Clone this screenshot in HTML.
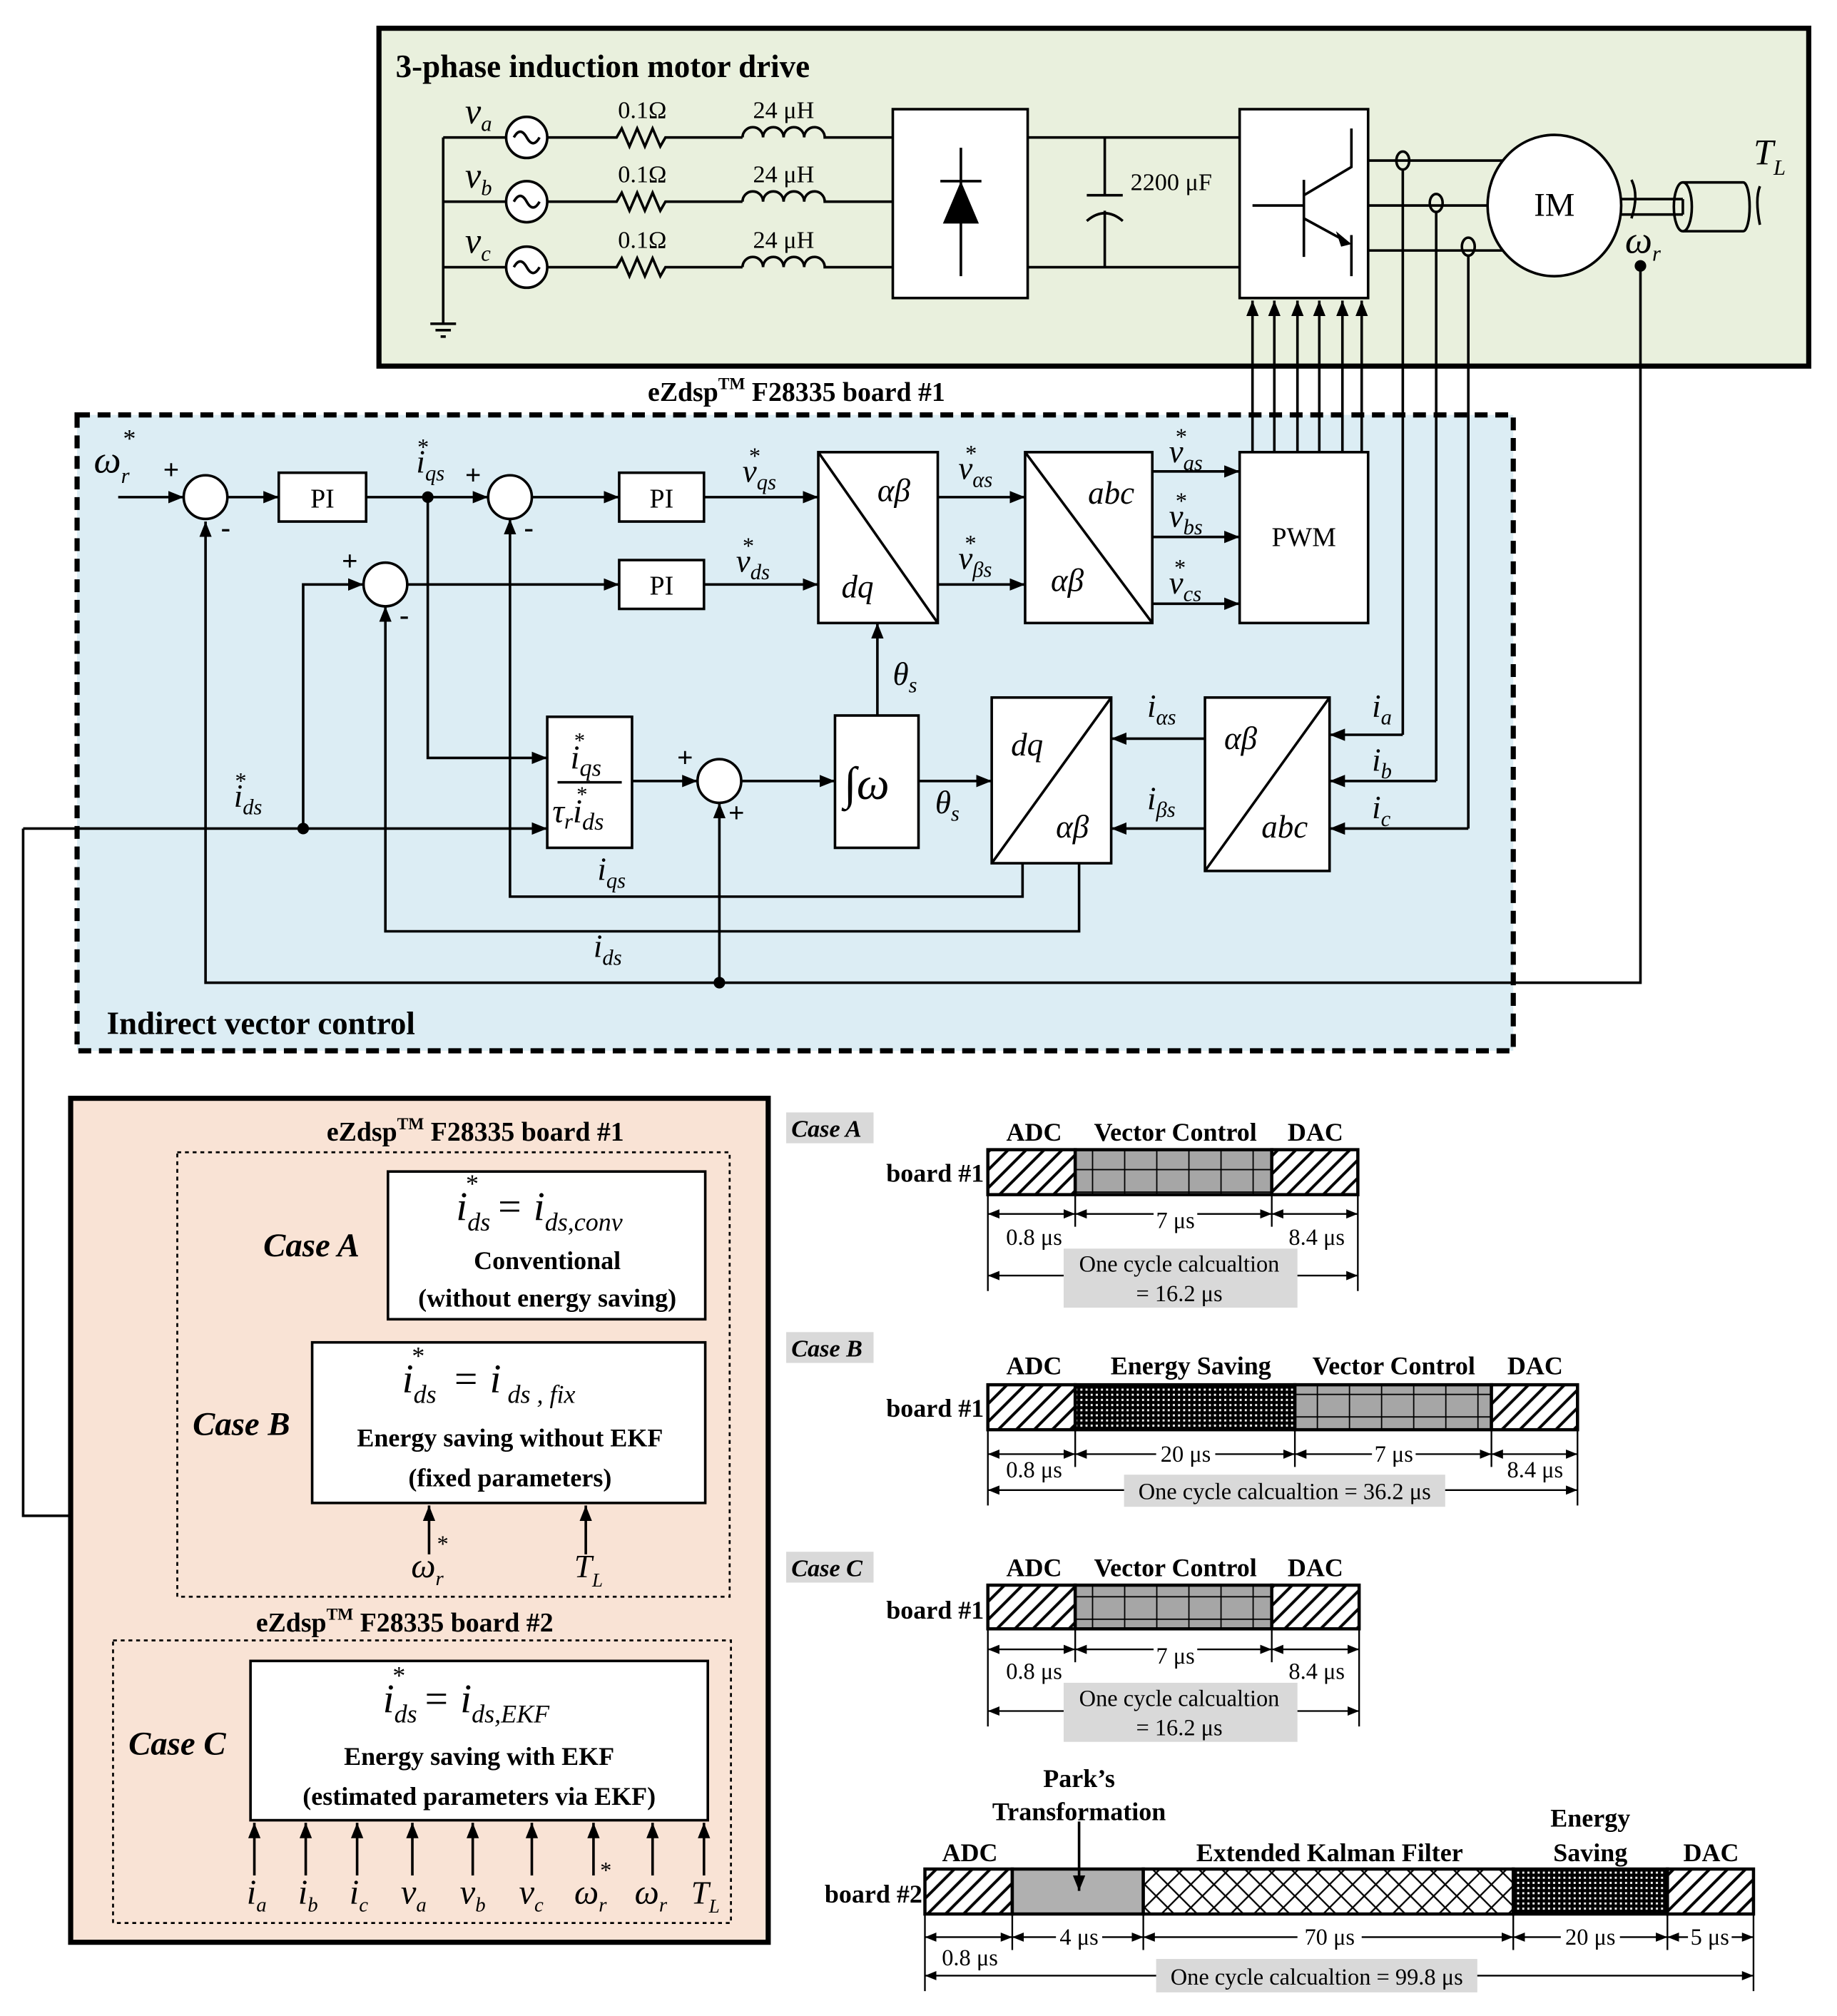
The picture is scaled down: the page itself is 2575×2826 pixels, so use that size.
<!DOCTYPE html>
<html><head><meta charset="utf-8"><style>
html,body{margin:0;padding:0;background:#fff}
svg{display:block}
text{font-family:"Liberation Serif",serif;fill:#000}
.b{font-weight:bold}
.i{font-style:italic}
</style></head><body>
<svg width="2575" height="2826" viewBox="0 0 1430 1569.4" xmlns="http://www.w3.org/2000/svg">
<defs>
<marker id="ar" viewBox="0 0 10 10" refX="10" refY="5" markerWidth="12" markerHeight="12" markerUnits="userSpaceOnUse" orient="auto"><path d="M0,1 L10,5 L0,9 z" fill="#000"/></marker>
<marker id="as" viewBox="0 0 10 10" refX="10" refY="5" markerWidth="9" markerHeight="9" markerUnits="userSpaceOnUse" orient="auto-start-reverse"><path d="M0,1 L10,5 L0,9 z" fill="#000"/></marker>
<pattern id="hatch" width="14" height="14" patternUnits="userSpaceOnUse"><rect width="14" height="14" fill="#fff"/><path d="M-2,16 L16,-2 M-2,2 L2,-2 M12,16 L16,12" stroke="#000" stroke-width="2.2"/></pattern>
<pattern id="grid" width="25" height="17.5" patternUnits="userSpaceOnUse"><rect width="25" height="17.5" fill="#a6a6a6"/><path d="M0,0 H25 M0,0 V17.5" stroke="#000" stroke-width="2"/></pattern>
<pattern id="dots" width="4" height="4" patternUnits="userSpaceOnUse"><rect width="4" height="4" fill="#000"/><rect x="1" y="1" width="1.6" height="1.6" fill="#fff"/></pattern>
<pattern id="cross" width="18" height="18" patternUnits="userSpaceOnUse"><rect width="18" height="18" fill="#fff"/><path d="M0,0 L18,18 M18,0 L0,18" stroke="#000" stroke-width="1.3"/></pattern>
</defs>

<!-- Motor drive box -->
<rect x="295" y="22" width="1113" height="263" fill="#e9f0dd" stroke="#000" stroke-width="4"/>
<text x="308" y="60" class="b" font-size="25">3-phase induction motor drive</text>
<g stroke="#000" stroke-width="2" fill="none">
<path d="M345,107 V252 M335,252 H355 M339,257 H351 M343,262 H347"/>
<path d="M345,107 H394 M345,157 H394 M345,208 H394"/>
<circle cx="410" cy="107" r="16" fill="#fff"/><circle cx="410" cy="157" r="16" fill="#fff"/><circle cx="410" cy="208" r="16" fill="#fff"/>
<path d="M400,107 q5,-9 10,0 t10,0 M400,157 q5,-9 10,0 t10,0 M400,208 q5,-9 10,0 t10,0"/>
<path d="M426,107 H480 l4,-7 l6,14 l6,-14 l6,14 l6,-14 l6,14 l4,-7 H578"/>
<path d="M426,157 H480 l4,-7 l6,14 l6,-14 l6,14 l6,-14 l6,14 l4,-7 H578"/>
<path d="M426,208 H480 l4,-7 l6,14 l6,-14 l6,14 l6,-14 l6,14 l4,-7 H578"/>
<path d="M578,107 a8,8 0 0 1 16,0 a8,8 0 0 1 16,0 a8,8 0 0 1 16,0 a8,8 0 0 1 16,0 H695"/>
<path d="M578,157 a8,8 0 0 1 16,0 a8,8 0 0 1 16,0 a8,8 0 0 1 16,0 a8,8 0 0 1 16,0 H695"/>
<path d="M578,208 a8,8 0 0 1 16,0 a8,8 0 0 1 16,0 a8,8 0 0 1 16,0 a8,8 0 0 1 16,0 H695"/>
<rect x="695" y="85" width="105" height="147" fill="#fff"/>
<path d="M748,115 V215 M732,141 H764"/>
<path d="M800,107 H965 M800,208 H965 M860,107 V152 M846,152 H874 M846,172 q14,-12 28,0 M860,164 V208"/>
<rect x="965" y="85" width="100" height="147" fill="#fff"/>
<path d="M1052,100 V130 L1015,152 M1015,140 V200 M975,160 H1015 M1015,170 L1048,188 M1052,183 V215"/>
<path d="M1065,125 H1172 M1065,160 H1165 M1065,195 H1172"/>
<ellipse cx="1210" cy="160" rx="52" ry="55" fill="#fff"/>
<path d="M1262,155 H1310 M1262,167 H1310 M1310,155 V167"/>
<ellipse cx="1310" cy="161" rx="7" ry="19"/><path d="M1310,142 H1357 M1310,180 H1357"/><path d="M1357,142 a5,19 0 0 1 0,38"/>
<path d="M1270,140 q6,12 0,30 M1370,145 q-4,10 0,30"/>
<ellipse cx="1092" cy="125" rx="5" ry="7"/><ellipse cx="1118" cy="158" rx="5" ry="7"/><ellipse cx="1143" cy="192" rx="5" ry="7"/>
</g>
<path d="M748,141 L734,174 H762 z" fill="#000"/>
<path d="M1052,190 L1040,180 L1044,192 z" fill="#000"/>
<text x="362" y="96" class="i" font-size="28">v<tspan font-size="17" dy="6">a</tspan></text>
<text x="362" y="146" class="i" font-size="28">v<tspan font-size="17" dy="6">b</tspan></text>
<text x="362" y="197" class="i" font-size="28">v<tspan font-size="17" dy="6">c</tspan></text>
<g font-size="19" text-anchor="middle"><text x="500" y="92">0.1Ω</text><text x="500" y="142">0.1Ω</text><text x="500" y="193">0.1Ω</text>
<text x="610" y="92">24 μH</text><text x="610" y="142">24 μH</text><text x="610" y="193">24 μH</text></g>
<text x="880" y="148" font-size="19">2200 μF</text>
<text x="1210" y="168" font-size="26" text-anchor="middle">IM</text>
<text x="1365" y="128" class="i" font-size="28">T<tspan font-size="17" dy="8">L</tspan></text>
<text x="1265" y="197" class="i" font-size="30">ω<tspan font-size="17" dy="6">r</tspan></text>

<!-- Vector control box -->
<text x="620" y="312" class="b" font-size="21" text-anchor="middle">eZdsp<tspan font-size="13" dy="-9">TM</tspan><tspan dy="9"> F28335 board #1</tspan></text>
<rect x="60" y="323" width="1118" height="495" fill="#dcedf4" stroke="#000" stroke-width="4" stroke-dasharray="10,6"/>
<text x="83" y="805" class="b" font-size="25">Indirect vector control</text>

<!-- connectors from motor drive (drawn on top) -->
<g stroke="#000" stroke-width="2" fill="none">
<path d="M1092,132 V572 M1118,165 V608 M1143,199 V645"/>
<path d="M1277,207 V765 H160 V406" marker-end="url(#ar)"/>
<path d="M975,352 V234" marker-end="url(#ar)"/><path d="M992,352 V234" marker-end="url(#ar)"/><path d="M1010,352 V234" marker-end="url(#ar)"/><path d="M1027,352 V234" marker-end="url(#ar)"/><path d="M1045,352 V234" marker-end="url(#ar)"/><path d="M1060,352 V234" marker-end="url(#ar)"/>
</g>
<circle cx="1277" cy="207" r="4.5" fill="#000"/>

<g stroke="#000" stroke-width="2" fill="none">
<circle cx="160" cy="387" r="17" fill="#fff"/><circle cx="397" cy="387" r="17" fill="#fff"/><circle cx="300" cy="455" r="17" fill="#fff"/><circle cx="560" cy="608" r="17" fill="#fff"/>
<rect x="217" y="368" width="68" height="38" fill="#fff"/><rect x="482" y="368" width="66" height="38" fill="#fff"/><rect x="482" y="436" width="66" height="38" fill="#fff"/>
<rect x="637" y="352" width="93" height="133" fill="#fff"/><path d="M637,352 L730,485"/>
<rect x="798" y="352" width="99" height="133" fill="#fff"/><path d="M798,352 L897,485"/>
<rect x="965" y="352" width="100" height="133" fill="#fff"/>
<rect x="426" y="558" width="66" height="102" fill="#fff"/><path d="M434,609 H484"/>
<rect x="650" y="557" width="65" height="103" fill="#fff"/>
<rect x="772" y="543" width="93" height="129" fill="#fff"/><path d="M772,672 L865,543"/>
<rect x="938" y="543" width="97" height="135" fill="#fff"/><path d="M938,678 L1035,543"/>
<g marker-end="url(#ar)">
<path d="M92,387 H143"/><path d="M177,387 H217"/><path d="M285,387 H380"/><path d="M414,387 H482"/><path d="M548,387 H637"/>
<path d="M236,645 V455 H283"/><path d="M317,455 H482"/><path d="M548,455 H637"/>
<path d="M730,387 H798"/><path d="M730,455 H798"/>
<path d="M897,367 H965"/><path d="M897,418 H965"/><path d="M897,470 H965"/>
<path d="M333,387 V590 H426"/><path d="M18,645 H426"/>
<path d="M492,608 H543"/><path d="M560,765 V625"/><path d="M577,608 H650"/>
<path d="M683,557 V485"/><path d="M715,608 H772"/>
<path d="M938,575 H865"/><path d="M938,645 H865"/>
<path d="M1092,572 H1035"/><path d="M1118,608 H1035"/><path d="M1143,645 H1035"/>
<path d="M796,672 V698 H397 V404"/><path d="M840,672 V725 H300 V472"/>
</g>
<path d="M18,645 V1180 H55"/>
</g>
<circle cx="333" cy="387" r="4.5"/><circle cx="236" cy="645" r="4.5"/><circle cx="560" cy="765" r="4.5"/>
<g font-size="22" class="b"><text x="127" y="373">+</text><text x="172" y="418">-</text><text x="362" y="377">+</text><text x="408" y="418">-</text><text x="266" y="444">+</text><text x="311" y="486">-</text><text x="527" y="597">+</text><text x="567" y="640">+</text></g>
<g font-size="21" text-anchor="middle"><text x="251" y="395">PI</text><text x="515" y="395">PI</text><text x="515" y="463">PI</text><text x="1015" y="425">PWM</text></g>
<g class="i" font-size="25">
<text x="73" y="368" font-size="30">ω<tspan font-size="17" dy="8">r</tspan><tspan font-size="20" dx="-6" dy="-28">*</tspan></text>
<text x="324" y="368">i<tspan font-size="17" dy="6">qs</tspan><tspan font-size="18" dx="-22" dy="-20">*</tspan></text>
<text x="578" y="375">v<tspan font-size="17" dy="6">qs</tspan><tspan font-size="18" dx="-22" dy="-20">*</tspan></text>
<text x="573" y="445">v<tspan font-size="17" dy="6">ds</tspan><tspan font-size="18" dx="-22" dy="-20">*</tspan></text>
<text x="746" y="373">v<tspan font-size="17" dy="6">αs</tspan><tspan font-size="18" dx="-22" dy="-20">*</tspan></text>
<text x="746" y="443">v<tspan font-size="17" dy="6">βs</tspan><tspan font-size="18" dx="-22" dy="-20">*</tspan></text>
<text x="910" y="360">v<tspan font-size="17" dy="6">as</tspan><tspan font-size="18" dx="-22" dy="-20">*</tspan></text>
<text x="910" y="410">v<tspan font-size="17" dy="6">bs</tspan><tspan font-size="18" dx="-22" dy="-20">*</tspan></text>
<text x="910" y="462">v<tspan font-size="17" dy="6">cs</tspan><tspan font-size="18" dx="-22" dy="-20">*</tspan></text>
<text x="683" y="390">αβ</text><text x="655" y="465">dq</text>
<text x="847" y="392">abc</text><text x="818" y="460">αβ</text>
<text x="787" y="588">dq</text><text x="822" y="652">αβ</text>
<text x="953" y="583">αβ</text><text x="982" y="652">abc</text>
<text x="695" y="533">θ<tspan font-size="17" dy="6">s</tspan></text>
<text x="728" y="633">θ<tspan font-size="17" dy="6">s</tspan></text>
<text x="893" y="558">i<tspan font-size="17" dy="6">αs</tspan></text>
<text x="893" y="630">i<tspan font-size="17" dy="6">βs</tspan></text>
<text x="1068" y="558">i<tspan font-size="17" dy="6">a</tspan></text>
<text x="1068" y="600">i<tspan font-size="17" dy="6">b</tspan></text>
<text x="1068" y="637">i<tspan font-size="17" dy="6">c</tspan></text>
<text x="465" y="685">i<tspan font-size="17" dy="6">qs</tspan></text>
<text x="462" y="745">i<tspan font-size="17" dy="6">ds</tspan></text>
<text x="182" y="628">i<tspan font-size="17" dy="6">ds</tspan><tspan font-size="18" dx="-22" dy="-20">*</tspan></text>
<text x="444" y="598" font-size="26">i<tspan font-size="19" dy="6">qs</tspan><tspan font-size="17" dx="-22" dy="-22">*</tspan></text>
<text x="430" y="640" font-size="26">τ<tspan font-size="17" dy="5">r</tspan><tspan dy="-5">i</tspan><tspan font-size="19" dy="6">ds</tspan><tspan font-size="17" dx="-22" dy="-22">*</tspan></text>
<text x="657" y="622" font-size="36" font-style="normal">∫<tspan class="i">ω</tspan></text>
</g>

<!-- Orange box -->
<rect x="55" y="855" width="543" height="657" fill="#f9e3d5" stroke="#000" stroke-width="4"/>
<text x="370" y="888" class="b" font-size="21" text-anchor="middle">eZdsp<tspan font-size="13" dy="-9">TM</tspan><tspan dy="9"> F28335 board #1</tspan></text>
<rect x="138" y="897" width="430" height="346" fill="none" stroke="#000" stroke-width="1.5" stroke-dasharray="3,3"/>
<text x="315" y="1270" class="b" font-size="21" text-anchor="middle">eZdsp<tspan font-size="13" dy="-9">TM</tspan><tspan dy="9"> F28335 board #2</tspan></text>
<rect x="88" y="1277" width="481" height="220" fill="none" stroke="#000" stroke-width="1.5" stroke-dasharray="3,3"/>
<g stroke="#000" stroke-width="2" fill="#fff">
<rect x="302" y="912" width="247" height="115"/><rect x="243" y="1045" width="306" height="125"/><rect x="195" y="1293" width="356" height="124"/>
</g>
<g class="b i" font-size="26"><text x="205" y="978">Case A</text><text x="150" y="1117">Case B</text><text x="100" y="1366">Case C</text></g>
<g class="i" font-size="32">
<text x="355" y="950">i<tspan font-size="20" dy="8">ds</tspan><tspan font-size="20" dx="-20" dy="-30">*</tspan><tspan dy="22" dx="14">= i</tspan><tspan font-size="20" dy="8">ds,conv</tspan></text>
<text x="313" y="1084">i<tspan font-size="20" dy="8">ds</tspan><tspan font-size="20" dx="-20" dy="-30">*</tspan><tspan dy="22" dx="22">=  i</tspan><tspan font-size="20" dy="8"> ds , fix</tspan></text>
<text x="298" y="1333">i<tspan font-size="20" dy="8">ds</tspan><tspan font-size="20" dx="-20" dy="-30">*</tspan><tspan dy="22" dx="14">= i</tspan><tspan font-size="20" dy="8">ds,EKF</tspan></text>
</g>
<g class="b" font-size="20" text-anchor="middle">
<text x="426" y="988">Conventional</text><text x="426" y="1017">(without energy saving)</text>
<text x="397" y="1126">Energy saving without EKF</text><text x="397" y="1157">(fixed parameters)</text>
<text x="373" y="1374">Energy saving with EKF</text><text x="373" y="1405">(estimated parameters via EKF)</text>
</g>
<g stroke="#000" stroke-width="2" marker-end="url(#ar)">
<path d="M334,1210 V1172"/><path d="M456,1210 V1172"/>
<path d="M198,1460 V1419"/><path d="M238,1460 V1419"/><path d="M278,1460 V1419"/><path d="M321,1460 V1419"/><path d="M368,1460 V1419"/><path d="M414,1460 V1419"/><path d="M462,1460 V1419"/><path d="M508,1460 V1419"/><path d="M548,1460 V1419"/>
</g>
<g class="i" font-size="27">
<text x="320" y="1228">ω<tspan font-size="16" dy="6">r</tspan><tspan font-size="18" dx="-6" dy="-26">*</tspan></text>
<text x="447" y="1228" font-size="25">T<tspan font-size="15" dy="7">L</tspan></text>
<text x="192" y="1482">i<tspan font-size="16" dy="6">a</tspan></text>
<text x="232" y="1482">i<tspan font-size="16" dy="6">b</tspan></text>
<text x="272" y="1482">i<tspan font-size="16" dy="6">c</tspan></text>
<text x="312" y="1482">v<tspan font-size="16" dy="6">a</tspan></text>
<text x="358" y="1482">v<tspan font-size="16" dy="6">b</tspan></text>
<text x="404" y="1482">v<tspan font-size="16" dy="6">c</tspan></text>
<text x="447" y="1482">ω<tspan font-size="16" dy="6">r</tspan><tspan font-size="18" dx="-6" dy="-26">*</tspan></text>
<text x="494" y="1482">ω<tspan font-size="16" dy="6">r</tspan></text>
<text x="538" y="1482" font-size="25">T<tspan font-size="15" dy="7">L</tspan></text>
</g>

<!-- Timing diagrams -->
<g fill="#d9d9d9"><rect x="612" y="866" width="68" height="24"/><rect x="612" y="1037" width="68" height="24"/><rect x="612" y="1208" width="68" height="24"/></g>
<g class="b i" font-size="19"><text x="616" y="885">Case A</text><text x="616" y="1056">Case B</text><text x="616" y="1227">Case C</text></g>
<g class="b" font-size="20" text-anchor="middle">
<text x="805" y="888">ADC</text><text x="915" y="888">Vector Control</text><text x="1024" y="888">DAC</text>
<text x="805" y="1070">ADC</text><text x="927" y="1070">Energy Saving</text><text x="1085" y="1070">Vector Control</text><text x="1195" y="1070">DAC</text>
<text x="805" y="1227">ADC</text><text x="915" y="1227">Vector Control</text><text x="1024" y="1227">DAC</text>
<text x="755" y="1449">ADC</text><text x="840" y="1391">Park’s</text><text x="840" y="1417">Transformation</text><text x="1035" y="1449">Extended Kalman Filter</text><text x="1238" y="1422">Energy</text><text x="1238" y="1449">Saving</text><text x="1332" y="1449">DAC</text>
</g>
<g class="b" font-size="20" text-anchor="end"><text x="766" y="920">board #1</text><text x="766" y="1103">board #1</text><text x="766" y="1260">board #1</text><text x="718" y="1481">board #2</text></g>
<g stroke="#000" stroke-width="2.5">
<rect x="769" y="895" width="68" height="35" fill="url(#hatch)"/><rect x="837" y="895" width="153" height="35" fill="url(#grid)"/><rect x="990" y="895" width="67" height="35" fill="url(#hatch)"/>
<rect x="769" y="1078" width="68" height="35" fill="url(#hatch)"/><rect x="837" y="1078" width="171" height="35" fill="url(#dots)"/><rect x="1008" y="1078" width="153" height="35" fill="url(#grid)"/><rect x="1161" y="1078" width="67" height="35" fill="url(#hatch)"/>
<rect x="769" y="1234" width="68" height="34" fill="url(#hatch)"/><rect x="837" y="1234" width="153" height="34" fill="url(#grid)"/><rect x="990" y="1234" width="68" height="34" fill="url(#hatch)"/>
<rect x="720" y="1455" width="68" height="35" fill="url(#hatch)"/><rect x="788" y="1455" width="102" height="35" fill="#b0b0b0"/><rect x="890" y="1455" width="288" height="35" fill="url(#cross)"/><rect x="1178" y="1455" width="120" height="35" fill="url(#dots)"/><rect x="1298" y="1455" width="67" height="35" fill="url(#hatch)"/>
</g>
<g stroke="#000" stroke-width="1.3" fill="none">
<path d="M769,930 V1005 M837,930 V955 M990,930 V955 M1057,930 V1005"/>
<path d="M769,1113 V1172 M837,1113 V1142 M1008,1113 V1142 M1161,1113 V1142 M1228,1113 V1172"/>
<path d="M769,1268 V1344 M837,1268 V1294 M990,1268 V1294 M1058,1268 V1344"/>
<path d="M720,1490 V1550 M788,1490 V1518 M890,1490 V1518 M1178,1490 V1518 M1298,1490 V1518 M1365,1490 V1550"/>
<g marker-start="url(#as)" marker-end="url(#as)">
<path d="M769,945 H837"/><path d="M837,945 H990"/><path d="M990,945 H1057"/><path d="M769,993 H1057"/>
<path d="M769,1132 H837"/><path d="M837,1132 H1008"/><path d="M1008,1132 H1161"/><path d="M1161,1132 H1228"/><path d="M769,1160 H1228"/>
<path d="M769,1284 H837"/><path d="M837,1284 H990"/><path d="M990,1284 H1058"/><path d="M769,1332 H1058"/>
<path d="M720,1508 H788"/><path d="M788,1508 H890"/><path d="M890,1508 H1178"/><path d="M1178,1508 H1298"/><path d="M1298,1508 H1365"/><path d="M720,1538 H1365"/>
</g>
</g>
<g fill="#d9d9d9"><rect x="828" y="972" width="182" height="46"/><rect x="875" y="1148" width="250" height="25"/><rect x="828" y="1310" width="182" height="46"/><rect x="900" y="1525" width="250" height="26"/></g>
<path d="M840,1418 V1472" stroke="#000" stroke-width="2" marker-end="url(#ar)"/>
<g font-size="18" text-anchor="middle">
<rect x="898" y="938" width="34" height="16" fill="#fff"/><text x="915" y="956">7 μs</text>
<text x="805" y="969">0.8 μs</text><text x="1025" y="969">8.4 μs</text>
<text x="918" y="990">One cycle calcualtion</text><text x="918" y="1013">= 16.2 μs</text>
<rect x="900" y="1125" width="46" height="16" fill="#fff"/><text x="923" y="1138">20 μs</text>
<rect x="1068" y="1125" width="34" height="16" fill="#fff"/><text x="1085" y="1138">7 μs</text>
<text x="805" y="1150">0.8 μs</text><text x="1195" y="1150">8.4 μs</text><text x="1000" y="1167">One cycle calcualtion = 36.2 μs</text>
<rect x="898" y="1277" width="34" height="16" fill="#fff"/><text x="915" y="1295">7 μs</text>
<text x="805" y="1307">0.8 μs</text><text x="1025" y="1307">8.4 μs</text>
<text x="918" y="1328">One cycle calcualtion</text><text x="918" y="1351">= 16.2 μs</text>
<rect x="822" y="1501" width="36" height="16" fill="#fff"/><text x="840" y="1514">4 μs</text>
<rect x="1010" y="1501" width="50" height="16" fill="#fff"/><text x="1035" y="1514">70 μs</text>
<rect x="1215" y="1501" width="46" height="16" fill="#fff"/><text x="1238" y="1514">20 μs</text>
<rect x="1314" y="1501" width="34" height="16" fill="#fff"/><text x="1331" y="1514">5 μs</text>
<text x="755" y="1530">0.8 μs</text><text x="1025" y="1545">One cycle calcualtion = 99.8 μs</text>
</g>
</svg>
</body></html>
